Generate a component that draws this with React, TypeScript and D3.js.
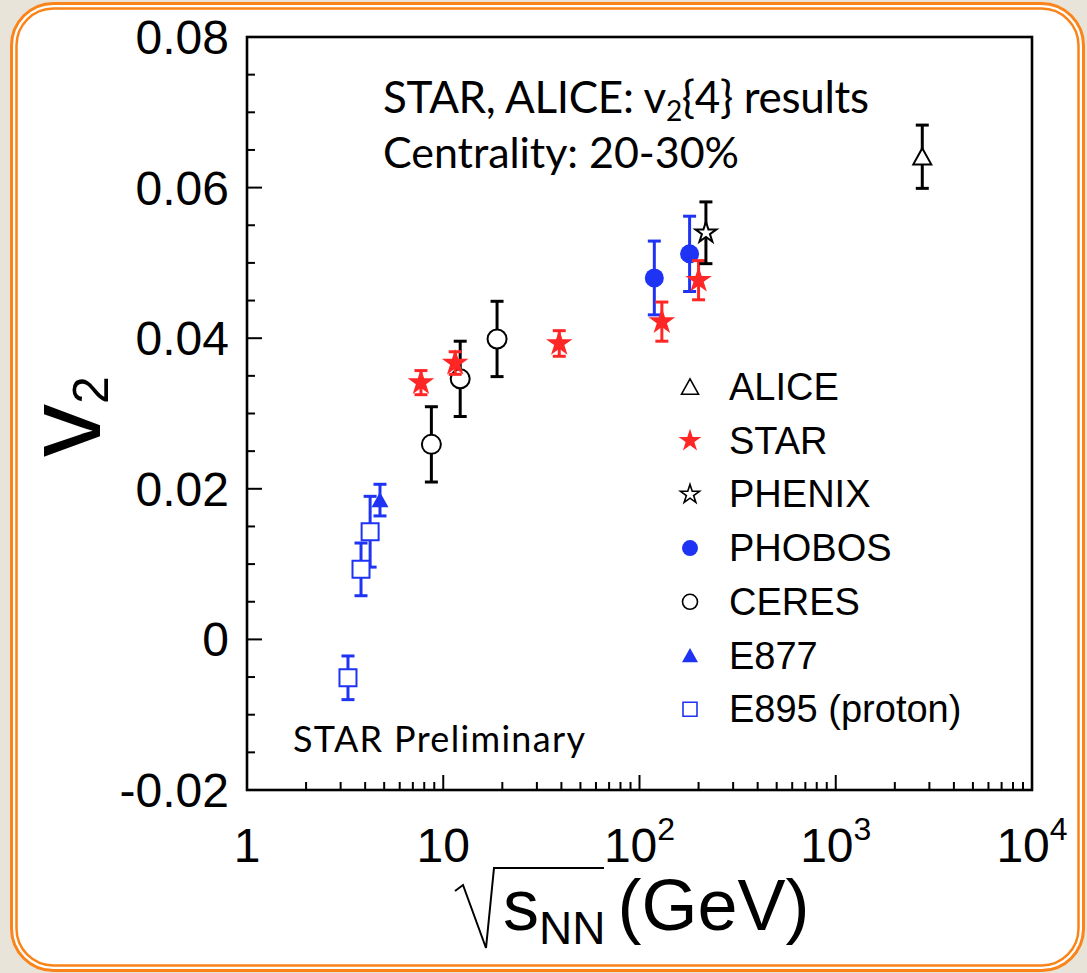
import React from "react";
import * as d3 from "d3";

const W = 1087;
const H = 973;

// Collision energy (GeV), v2 and statistical error for each experiment
const aliceEnergy = [2760];
const aliceV2 = [0.0641];
const aliceErr = [0.0042];

const starEnergy = [7.7, 11.5, 39, 130, 200];
const starV2 = [0.0341, 0.0367, 0.0393, 0.0422, 0.0477];
const starErr = [0.0016, 0.0015, 0.0017, 0.0026, 0.0026];

const phenixEnergy = [218];
const phenixV2 = [0.054];
const phenixErr = [0.0041];

const phobosEnergy = [119, 180];
const phobosV2 = [0.048, 0.0512];
const phobosErr = [0.0049, 0.005];

const ceresEnergy = [8.7, 12.2, 18.8];
const ceresV2 = [0.0259, 0.0346, 0.0399];
const ceresErr = [0.005, 0.005, 0.005];

const e877Energy = [4.76];
const e877V2 = [0.0185];
const e877Err = [0.0021];

const e895Energy = [3.27, 3.81, 4.24];
const e895V2 = [-0.0051, 0.0093, 0.0143];
const e895Err = [0.0029, 0.0035, 0.0047];

const xMajorTicks = [1, 10, 100, 1000, 10000];
const xTickExponents = ["", "", "2", "3", "4"];
const xTickBases = ["1", "10", "10", "10", "10"];
const yMajorTicks = [-0.02, 0, 0.02, 0.04, 0.06, 0.08];
const yTickLabels = ["-0.02", "0", "0.02", "0.04", "0.06", "0.08"];

const legendNames = ["ALICE", "STAR", "PHENIX", "PHOBOS", "CERES", "E877", "E895 (proton)"];

const RED = "#ff2626";
const BLUE = "#1f33f5";
const ORANGE = "#fa8419";

type Kind = "triangle" | "star" | "circle" | "square";

interface Series {
  name: string;
  energy: number[];
  v2: number[];
  err: number[];
  kind: Kind;
  color: string;
  filled: boolean;
  size: number;
  legendSize: number;
}

const series: Series[] = [
  { name: "CERES", energy: ceresEnergy, v2: ceresV2, err: ceresErr, kind: "circle", color: "#000", filled: false, size: 9.5, legendSize: 7.5 },
  { name: "E895 (proton)", energy: e895Energy, v2: e895V2, err: e895Err, kind: "square", color: BLUE, filled: false, size: 8.5, legendSize: 7 },
  { name: "E877", energy: e877Energy, v2: e877V2, err: e877Err, kind: "triangle", color: BLUE, filled: true, size: 8.5, legendSize: 8 },
  { name: "PHOBOS", energy: phobosEnergy, v2: phobosV2, err: phobosErr, kind: "circle", color: BLUE, filled: true, size: 9.5, legendSize: 8 },
  { name: "STAR", energy: starEnergy, v2: starV2, err: starErr, kind: "star", color: RED, filled: true, size: 14, legendSize: 12 },
  { name: "PHENIX", energy: phenixEnergy, v2: phenixV2, err: phenixErr, kind: "star", color: "#000", filled: false, size: 11, legendSize: 10 },
  { name: "ALICE", energy: aliceEnergy, v2: aliceV2, err: aliceErr, kind: "triangle", color: "#000", filled: false, size: 9, legendSize: 8.5 },
];

function markerPath(kind: Kind, s: number): string {
  if (kind === "circle") {
    const p = d3.path();
    p.arc(0, 0, s, 0, Math.PI * 2);
    p.closePath();
    return p.toString();
  }
  if (kind === "square") {
    return `M${-s},${-s}H${s}V${s}H${-s}Z`;
  }
  if (kind === "triangle") {
    return `M0,${-0.95 * s}L${s},${0.85 * s}L${-s},${0.85 * s}Z`;
  }
  // five-pointed star with outer radius s
  const sym = d3.symbol().type(d3.symbolStar).size((s * s) / 0.8908);
  return sym() as string;
}

const FONT = "'Liberation Sans', Arial, Helvetica, sans-serif";
const NOTE_FONT = "Lato, 'Open Sans', sans-serif";

export default function App() {
  const x = d3.scaleLog().domain([1, 1e4]).range([247, 1032]);
  const y = d3.scaleLinear().domain([-0.02, 0.08]).range([790, 37]);

  const [x0, x1] = x.range();
  const [y0, y1] = y.range();

  // minor ticks
  const xMinor: number[] = [];
  for (let d = 1; d < 1e4; d *= 10) {
    for (let k = 2; k <= 9; k++) xMinor.push(d * k);
  }
  const yMinor = d3.range(-0.02, 0.0801, 0.005).filter(
    (v) => Math.abs(Math.round(v / 0.02) * 0.02 - v) > 1e-6
  );

  const capHalf = 6.5;
  const legendX = 690;
  const legendY0 = 387;
  const legendStep = 53.7;
  const legendOrder = legendNames.map((n) => series.find((s) => s.name === n)!);

  return (
    <svg
      width={W}
      height={H}
      style={{ position: "absolute", left: 0, top: 0, display: "block" }}
      xmlns="http://www.w3.org/2000/svg"
    >
      <rect x={0} y={0} width={W} height={H} fill="#e8e4da" />
      <rect x={11.5} y={3.5} width={1072} height={967} rx={42} fill="#fff" stroke={ORANGE} strokeWidth={3} />
      <rect x={16.5} y={8.5} width={1062} height={957} rx={37} fill="#fff" stroke={ORANGE} strokeWidth={2.5} />

      {/* frame */}
      <rect x={x0} y={y1} width={x1 - x0} height={y0 - y1} fill="none" stroke="#000" strokeWidth={2.6} />

      {/* x ticks */}
      {xMajorTicks.map((t) => (
        <line key={"xM" + t} x1={x(t)} x2={x(t)} y1={y0} y2={y0 - 15} stroke="#000" strokeWidth={2} />
      ))}
      {xMinor.map((t) => (
        <line key={"xm" + t} x1={x(t)} x2={x(t)} y1={y0} y2={y0 - 8} stroke="#000" strokeWidth={2} />
      ))}
      {/* y ticks */}
      {yMajorTicks.map((t) => (
        <line key={"yM" + t} x1={x0} x2={x0 + 15} y1={y(t)} y2={y(t)} stroke="#000" strokeWidth={2} />
      ))}
      {yMinor.map((t) => (
        <line key={"ym" + t} x1={x0} x2={x0 + 8} y1={y(t)} y2={y(t)} stroke="#000" strokeWidth={2} />
      ))}

      {/* tick labels */}
      {yMajorTicks.map((t, i) => (
        <text key={"yl" + t} x={229} y={y(t) + 17} textAnchor="end" fontFamily={FONT} fontSize={48} fill="#000">
          {yTickLabels[i]}
        </text>
      ))}
      {xMajorTicks.map((t, i) => (
        <text key={"xl" + t} x={x(t)} y={862} textAnchor="middle" fontFamily={FONT} fontSize={48} fill="#000">
          {xTickBases[i]}
          {xTickExponents[i] && (
            <tspan fontSize={32} dy={-22}>
              {xTickExponents[i]}
            </tspan>
          )}
        </text>
      ))}

      {/* axis titles */}
      <g fontFamily={FONT} fill="#000">
        <path d="M455,891 L463,885 L486,948 L494,868 L604,868" fill="none" stroke="#000" strokeWidth={2} />
        <text x={503} y={930} fontSize={72}>
          s
          <tspan fontSize={46} dy={14}>NN</tspan>
          <tspan dy={-14} dx={12}>(GeV)</tspan>
        </text>
        <text transform="translate(100,457) rotate(-90)" fontSize={106}>
          v<tspan fontSize={50} dy={8}>2</tspan>
        </text>
      </g>

      {/* notes */}
      <g fontFamily={NOTE_FONT} fill="#000">
        <text x={383} y={113} fontSize={44} textLength={486}>
          STAR, ALICE: v<tspan fontSize={28} dy={8}>2</tspan>
          <tspan dy={-8}>{"{4} results"}</tspan>
        </text>
        <text x={383} y={168} fontSize={43} textLength={356}>
          Centrality: 20-30%
        </text>
        <text x={293} y={752} fontSize={36} textLength={292}>
          STAR Preliminary
        </text>
      </g>

      {/* data */}
      {series.map((s) => (
        <g key={s.name}>
          {s.energy.map((e, i) => {
            const cx = x(e);
            const top = y(s.v2[i] + s.err[i]);
            const bot = y(s.v2[i] - s.err[i]);
            return (
              <g key={i} stroke={s.color} strokeWidth={3}>
                <line x1={cx} x2={cx} y1={top} y2={bot} />
                <line x1={cx - capHalf} x2={cx + capHalf} y1={top} y2={top} />
                <line x1={cx - capHalf} x2={cx + capHalf} y1={bot} y2={bot} />
              </g>
            );
          })}
          {s.energy.map((e, i) => (
            <path
              key={"m" + i}
              d={markerPath(s.kind, s.size)}
              transform={`translate(${x(e)},${y(s.v2[i])})`}
              fill={s.filled ? s.color : "#fff"}
              stroke={s.color}
              strokeWidth={s.filled ? 0 : 2}
            />
          ))}
        </g>
      ))}

      {/* legend */}
      {legendOrder.map((s, i) => {
        const cy = legendY0 + i * legendStep;
        return (
          <g key={"lg" + s.name}>
            <path
              d={markerPath(s.kind, s.legendSize)}
              transform={`translate(${legendX},${cy})`}
              fill={s.filled ? s.color : "#fff"}
              stroke={s.color}
              strokeWidth={s.filled ? 0 : 1.6}
            />
            <text x={729} y={cy + 13} fontFamily={FONT} fontSize={38} fill="#000">
              {s.name}
            </text>
          </g>
        );
      })}
    </svg>
  );
}
